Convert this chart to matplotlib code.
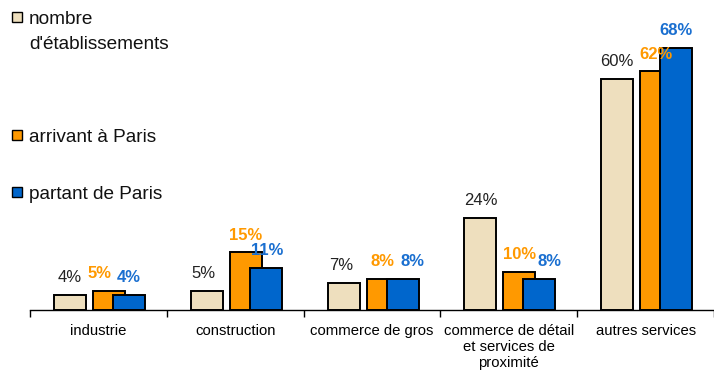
import matplotlib
matplotlib.use('Agg')
from matplotlib import pyplot as plt
from matplotlib.patches import Rectangle
import numpy as np

plt.rcParams['font.family'] = ['Liberation Sans', 'DejaVu Sans']

categories = ['industrie', 'construction', 'commerce de gros',
              'commerce de détail\net services de\nproximité', 'autres services']
series_names = ["nombre\nd'établissements", 'arrivant à Paris', 'partant de Paris']
etablissements = [4, 5, 7, 24, 60]
arrivant = [5, 15, 8, 10, 62]
partant = [4, 11, 8, 8, 68]

colors = ['#EEDFBE', '#FF9900', '#0066CC']
text_colors = ['#222222', '#FF9900', '#1A6FD0']
weights = ['normal', 'bold', 'bold']
offsets = [-0.207, 0.077, 0.223]
# horizontal nudge of the value labels, in pixels, so they don't collide
label_nudge = [[0, -3, -2, 0, 0],
               [-9, 0, 0, 0, 0],
               [0, 1, 10, 10, 0]]
bar_w = 0.234

W, H = 714, 372
fig = plt.figure(figsize=(W / 100, H / 100), dpi=100)
ax = fig.add_axes([30 / W, 62 / H, 684 / W, 308 / H])

x = np.arange(len(categories))
series = [etablissements, arrivant, partant]
for i, values in enumerate(series):
    bars = ax.bar(x + offsets[i], values, bar_w, color=colors[i],
                  edgecolor='black', linewidth=1.4, zorder=2)
    for b, v, dx in zip(bars, values, label_nudge[i]):
        ax.annotate('%d%%' % v, (b.get_x() + b.get_width() / 2, v),
                    xytext=(dx * 0.72, 7), textcoords='offset points',
                    ha='center', va='bottom', fontsize=12,
                    color=text_colors[i], fontweight=weights[i],
                    annotation_clip=False)

ax.set_xlim(-0.5, len(categories) - 0.5)
ax.set_ylim(0, 80)
for s in ['top', 'right', 'left']:
    ax.spines[s].set_visible(False)
ax.spines['bottom'].set_linewidth(1.0)
ax.set_yticks([])
ax.set_xticks(x)
ax.set_xticklabels(categories, fontsize=10.7, linespacing=1.2)
ax.tick_params(axis='x', which='major', length=0, pad=10)
ax.set_xticks(np.arange(-0.5, len(categories)), minor=True)
ax.tick_params(axis='x', which='minor', length=5, width=1.0, direction='out')

# legend drawn by hand, the gaps between entries are uneven
legend_y = [22, 140, 197]   # bottom of each swatch, pixels from top
for name, color, y in zip(series_names, colors, legend_y):
    fig.patches.append(Rectangle((12 / W, 1 - y / H), 10 / W, 10 / H,
                                 transform=fig.transFigure, facecolor=color,
                                 edgecolor='black', linewidth=1.0))
    for k, line in enumerate(name.split('\n')):
        fig.text(29 / W, 1 - (y + 2 + 25 * k) / H, line, fontsize=13.7,
                 va='baseline', ha='left', color='#111111')

fig.savefig('out.png', dpi=100)
